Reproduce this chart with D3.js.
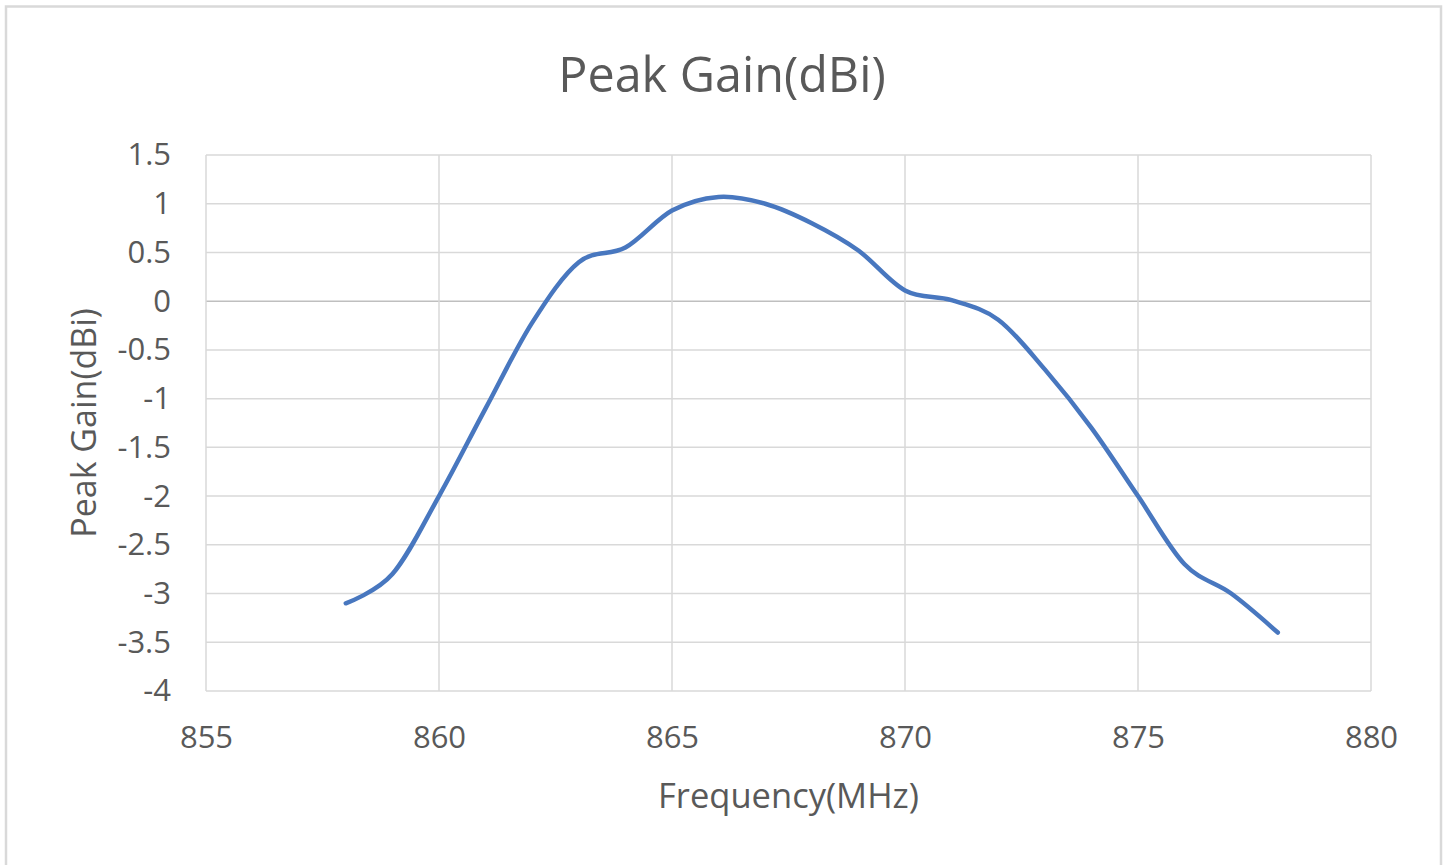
<!DOCTYPE html>
<html>
<head>
<meta charset="utf-8">
<script src="https://cdn.jsdelivr.net/npm/d3@7"></script>
<style>
  body { margin: 0; background: #fff; }
  text { font-family: "Open Sans", "Noto Sans", sans-serif; fill: #595959; }
</style>
</head>
<body>
<div id="chart"></div>
<script>
// data
var freq = [858, 859, 860, 861, 862, 863, 864, 865, 866, 867, 868, 869, 870, 871, 872, 873, 874, 875, 876, 877, 878];
var gain = [-3.1, -2.8, -2.0, -1.1, -0.22, 0.4, 0.55, 0.93, 1.07, 1.0, 0.8, 0.52, 0.11, 0.01, -0.19, -0.7, -1.3, -2.0, -2.7, -3.0, -3.4];
var xTicks = [855, 860, 865, 870, 875, 880];
var yTicks = [1.5, 1, 0.5, 0, -0.5, -1, -1.5, -2, -2.5, -3, -3.5, -4];

var width = 1443, height = 865;
var marge = {top: 155, bottom: 174, left: 206, right: 72};

var svg = d3.select('#chart')
    .append('svg')
    .attr('width', width)
    .attr('height', height);

// outer chart frame
svg.append("rect")
    .attr("x", 6).attr("y", 6.5)
    .attr("width", 1435).attr("height", 880)
    .attr("fill", "#fff")
    .attr("stroke", "#d9d9d9")
    .attr("stroke-width", 2.5);

var xScale = d3.scaleLinear()
    .domain([855, 880])
    .range([marge.left, width - marge.right]);
var yScale = d3.scaleLinear()
    .domain([-4, 1.5])
    .range([height - marge.bottom, marge.top]);

// gridlines
svg.append("g").selectAll("line.h")
    .data(yTicks)
    .enter().append("line")
    .attr("x1", xScale(855)).attr("x2", xScale(880))
    .attr("y1", function(d){ return yScale(d); })
    .attr("y2", function(d){ return yScale(d); })
    .attr("stroke", function(d){ return d === 0 ? "#bfbfbf" : "#d9d9d9"; })
    .attr("stroke-width", 1.5);
svg.append("g").selectAll("line.v")
    .data(xTicks)
    .enter().append("line")
    .attr("y1", yScale(-4)).attr("y2", yScale(1.5))
    .attr("x1", function(d){ return xScale(d); })
    .attr("x2", function(d){ return xScale(d); })
    .attr("stroke", "#d9d9d9")
    .attr("stroke-width", 1.5);

// tick labels via axes
var yAxis = d3.axisLeft(yScale).tickValues(yTicks).tickSize(0).tickPadding(35)
    .tickFormat(function(d){ return String(d); });
var gy = svg.append("g")
    .attr("transform", "translate(" + marge.left + ",0)")
    .call(yAxis);
var xAxis = d3.axisBottom(xScale).tickValues(xTicks).tickSize(0).tickPadding(35)
    .tickFormat(d3.format("d"));
var gx = svg.append("g")
    .attr("transform", "translate(0," + yScale(-4) + ")")
    .call(xAxis);
[gy, gx].forEach(function(g){
  g.select(".domain").remove();
  g.selectAll("text")
    .attr("fill", "#595959")
    .style("font-size", "31px")
    .style("font-family", '"Open Sans", "Noto Sans", sans-serif');
});

// the curve
var line = d3.line()
    .x(function(d, i){ return xScale(freq[i]); })
    .y(function(d){ return yScale(d); })
    .curve(d3.curveCatmullRom.alpha(0));
svg.append("path")
    .datum(gain)
    .attr("d", line)
    .attr("fill", "none")
    .attr("stroke", "#4877bf")
    .attr("stroke-width", 4.5)
    .attr("stroke-linecap", "round");

// titles
svg.append("text")
    .attr("x", 722).attr("y", 92)
    .attr("text-anchor", "middle")
    .style("font-size", "48.5px")
    .text("Peak Gain(dBi)");
svg.append("text")
    .attr("x", (xScale(855) + xScale(880)) / 2).attr("y", 808)
    .attr("text-anchor", "middle")
    .style("font-size", "34.5px")
    .text("Frequency(MHz)");
svg.append("text")
    .attr("transform", "translate(96," + ((yScale(-4) + yScale(1.5)) / 2) + ") rotate(-90)")
    .attr("text-anchor", "middle")
    .style("font-size", "34px")
    .text("Peak Gain(dBi)");
</script>
</body>
</html>
